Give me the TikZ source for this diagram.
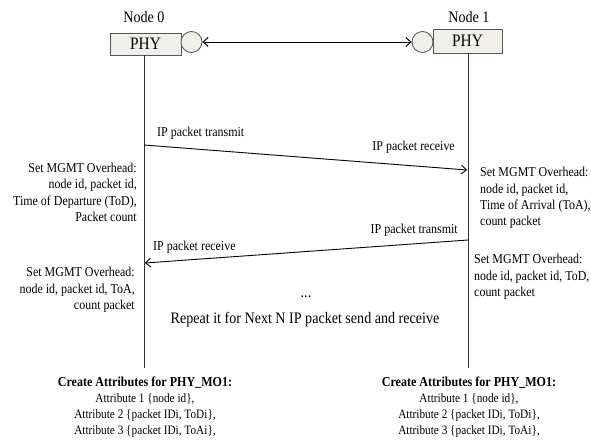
\documentclass[tikz,border=0pt]{standalone}
\usepackage{fontspec}
\setmainfont[FakeStretch=0.88]{Liberation Serif}
\usetikzlibrary{arrows.meta}
\definecolor{boxfill}{HTML}{F1EFE9}
\definecolor{boxline}{HTML}{555555}
\definecolor{lifecol}{HTML}{333333}
\tikzset{
  phybox/.style={draw=boxline, fill=boxfill, line width=0.8pt, inner sep=0pt,
    font=\fontsize{17.5}{20}\selectfont},
  port/.style={circle, draw=boxline, fill=boxfill, line width=0.8pt, minimum size=21pt, inner sep=0pt},
  title/.style={font=\fontsize{16}{19}\selectfont, inner sep=0pt},
  lifeline/.style={draw=lifecol, line width=0.9pt},
  msg/.style={draw=black, line width=0.9pt, -{Straight Barb[length=5pt,width=9pt]}},
  link/.style={draw=black, line width=1pt, {Straight Barb[length=5pt,width=9pt]}-{Straight Barb[length=5pt,width=9pt]}},
  lbl/.style={font=\fontsize{13.6}{16.4}\selectfont, inner sep=0pt},
  blockr/.style={lbl, align=right},
  blockl/.style={lbl, align=left},
  big/.style={font=\fontsize{16}{19}\selectfont, inner sep=0pt},
  attr/.style={align=center, inner sep=0pt, font=\fontsize{12.8}{16.3}\selectfont}
}
\newcommand{\attrhead}{{\fontsize{13.7}{16.3}\selectfont\bfseries Create Attributes for PHY\_MO1:}}
\begin{document}
\begin{tikzpicture}[x=1pt, y=-1pt]
\useasboundingbox (0,0) rectangle (591,439);
% titles
\node[title] (t0) at (144,17) {Node 0};
\node[title] (t1) at (469,17) {Node 1};
% PHY boxes
\node[phybox, minimum width=71pt, minimum height=22pt] (phy0) at (145.5,44) {PHY};
\node[phybox, minimum width=69pt, minimum height=24pt] (phy1) at (467.5,41) {PHY};
\node[port] (c0) at (191.5,42) {};
\node[port] (c1) at (422.5,42) {};
\draw[link] (c0) -- (c1);
% lifelines
\coordinate (l0e) at (144,368);
\coordinate (l1e) at (468,368);
\draw[lifeline] (phy0.south -| l0e) -- (l0e);
\draw[lifeline] (phy1.south -| l1e) -- (l1e);
% messages
\coordinate (m1s) at (144,145);
\coordinate (m1e) at (467,170);
\coordinate (m2s) at (468,240);
\coordinate (m2e) at (145,263);
\draw[msg] (m1s) -- (m1e);
\draw[msg] (m2s) -- (m2e);
\node[lbl, anchor=west] (a1) at (157,133) {IP packet transmit};
\node[lbl, anchor=east] (a2) at (455,147) {IP packet receive};
\node[lbl, anchor=east] (a3) at (458,230) {IP packet transmit};
\node[lbl, anchor=west] (a4) at (153,247) {IP packet receive};
% left blocks
\node[blockr, anchor=east] (lb1) at (137,192.5) {Set MGMT Overhead:\\node id, packet id,\\Time of Departure (ToD),\\Packet count};
\node[blockr, anchor=east] (lb2) at (135,290) {Set MGMT Overhead:\\node id, packet id, ToA,\\count packet};
% right blocks
\node[blockl, anchor=west] (rb1) at (480,198) {Set MGMT Overhead:\\node id, packet id,\\Time of Arrival (ToA),\\count packet};
\node[blockl, anchor=west] (rb2) at (474,277) {Set MGMT Overhead:\\node id, packet id, ToD,\\count packet};
% middle
\node[big] (dots) at (306,297) {...};
\node[big] (rep) at (305,320) {Repeat it for Next N IP packet send and receive};
% bottom
\node[attr] (bt0) at (145,407) {\attrhead\\Attribute 1 \{node id\},\\Attribute 2 \{packet IDi, ToDi\},\\Attribute 3 \{packet IDi, ToAi\},};
\node[attr] (bt1) at (469,407) {\attrhead\\Attribute 1 \{node id\},\\Attribute 2 \{packet IDi, ToDi\},\\Attribute 3 \{packet IDi, ToAi\},};
\end{tikzpicture}
\end{document}
